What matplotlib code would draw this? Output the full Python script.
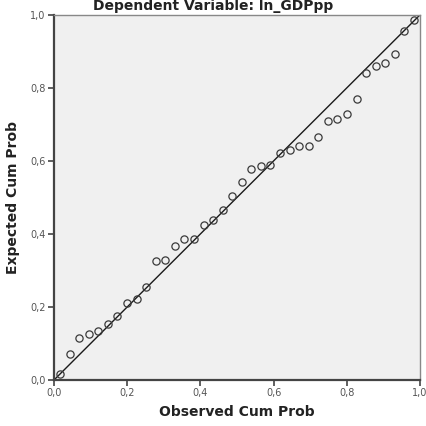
import matplotlib
matplotlib.use('Agg')
import matplotlib.pyplot as plt
from matplotlib.ticker import FuncFormatter

# observed vs expected cumulative probabilities of the standardized residuals
observed = [0.0163, 0.0425, 0.0686, 0.0948, 0.1209, 0.1471, 0.1732, 0.1993,
            0.2255, 0.2516, 0.2778, 0.3039, 0.3301, 0.3562, 0.3824, 0.4085,
            0.4346, 0.4608, 0.4869, 0.5131, 0.5392, 0.5654, 0.5915, 0.6176,
            0.6438, 0.6699, 0.6961, 0.7222, 0.7484, 0.7745, 0.8007, 0.8268,
            0.8529, 0.8791, 0.9052, 0.9314, 0.9575, 0.9837]
expected = [0.016, 0.071, 0.114, 0.125, 0.134, 0.154, 0.175, 0.211,
            0.222, 0.254, 0.327, 0.329, 0.368, 0.385, 0.387, 0.424,
            0.438, 0.465, 0.505, 0.541, 0.577, 0.585, 0.588, 0.621,
            0.631, 0.642, 0.642, 0.666, 0.710, 0.715, 0.729, 0.770,
            0.842, 0.860, 0.868, 0.893, 0.957, 0.986]
ticks = [0.0, 0.2, 0.4, 0.6, 0.8, 1.0]

fig = plt.figure(figsize=(4.27, 4.26), dpi=100)
ax = fig.add_axes([0.1265, 0.108, 0.857, 0.857])
ax.set_facecolor('#f0f0f0')

# reference diagonal and points
ax.plot([0, 1], [0, 1], c='#1a1a1a', lw=1.0, zorder=2)
ax.plot(observed, expected, ls='None', marker='o', ms=5.2, mfc='none',
        mec='#3a3a3a', mew=0.9, zorder=3)

ax.set_xlim(0, 1)
ax.set_ylim(0, 1)
ax.set_xticks(ticks)
ax.set_yticks(ticks)
comma = FuncFormatter(lambda v, p: ('%.1f' % v).replace('.', ','))
ax.xaxis.set_major_formatter(comma)
ax.yaxis.set_major_formatter(comma)
ax.tick_params(direction='out', length=4, width=1.2, color='#444444',
               labelsize=7, labelcolor='#555555', pad=2)

for side in ['left', 'bottom']:
    ax.spines[side].set_color('#444444')
    ax.spines[side].set_linewidth(1.6)
for side in ['top', 'right']:
    ax.spines[side].set_color('#888888')
    ax.spines[side].set_linewidth(1.0)

ax.set_xlabel('Observed Cum Prob', fontsize=10, fontweight='bold',
              color='#222222', labelpad=5)
ax.set_ylabel('Expected Cum Prob', fontsize=10, fontweight='bold',
              color='#222222', labelpad=7)
fig.text(0.5, 0.977, 'Dependent Variable: ln_GDPpp', ha='center',
         va='baseline', fontsize=10, fontweight='bold', color='#222222')

fig.savefig('out.png', dpi=100)
